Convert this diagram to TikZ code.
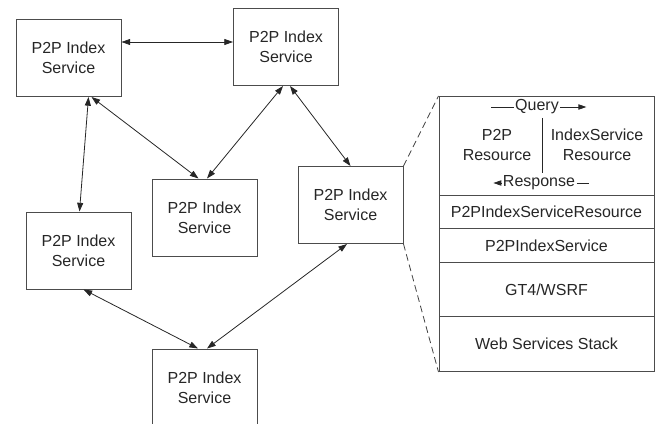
\documentclass[tikz,border=0pt]{standalone}
\usepackage{fontspec}
\setmainfont{Liberation Sans}
\usetikzlibrary{arrows.meta,calc}
\begin{document}
\begin{tikzpicture}[x=0.75pt,y=-0.75pt,
  every node/.style={font=\fontsize{12}{15}\selectfont, text=black!85, inner sep=0pt, align=center},
  peer/.style={draw=black!70, line width=0.75pt, minimum width=78.75pt, minimum height=57.75pt},
  layer/.style={draw=black!70, line width=0.75pt, minimum width=161.25pt, anchor=north},
  tip/.style={Triangle[length=6.5pt,width=4.5pt]},
  link/.style={{Triangle[length=6.5pt,width=4.5pt]}-{Triangle[length=6.5pt,width=4.5pt]}, line width=0.6pt, draw=black!85},
  flow/.style={line width=0.6pt, draw=black!85},
  zoomline/.style={dashed, dash pattern=on 5pt off 3pt, line width=0.6pt, draw=black!75}
]
\useasboundingbox (0,0) rectangle (656,424);

% peer index services
\node[peer] (A) at (68.5,58) {P2P Index\\Service};
\node[peer] (B) at (286,47) {P2P Index\\Service};
\node[peer] (C) at (204.5,217.5) {P2P Index\\Service};
\node[peer] (D) at (350.5,205) {P2P Index\\Service};
\node[peer] (E) at (78.5,250.5) {P2P Index\\Service};
\node[peer] (F) at (204.5,387.5) {P2P Index\\Service};

% links between peers
\draw[link] ($(A.east)+(0,-16)$) -- ($(B.west)+(0,-5)$);
\draw[link] ($(A.south)+(23,0)$) -- ($(C.north)+(-6,0)$);
\draw[link] ($(A.south)+(20,0)$) -- ($(E.north)+(1,0)$);
\draw[link] ($(B.south)+(-3,0)$) -- ($(C.north)+(2.5,0)$);
\draw[link] ($(B.south)+(4,0)$) -- ($(D.north)+(0,0)$);
\draw[link] ($(E.south)+(5,0)$) -- ($(F.north)+(-6.5,0)$);
\draw[link] ($(D.south)+(-3.5,0)$) -- ($(F.north)+(2.5,0)$);

% layered view of a single service
\node[layer, minimum height=74.25pt] (s0) at (546.5,96) {};
\node[layer, minimum height=24.75pt] (s1) at (546.5,195) {P2PIndexServiceResource};
\node[layer, minimum height=25.5pt]  (s2) at (546.5,228) {P2PIndexService};
\node[layer, minimum height=40.5pt]  (s3) at (546.5,262) {GT4/WSRF};
\node[layer, minimum height=41.25pt] (s4) at (546.5,316) {Web Services Stack};

% resource exchange inside the top layer
\node (pr) at (497,145) {P2P\\Resource};
\node (ir) at (597,145) {IndexService\\Resource};
\coordinate (divtop) at (542,118);
\coordinate (divbot) at (542,173);
\draw[flow] (divtop) -- (divbot);
\node[inner sep=1pt] (q) at (537,107) {Query};
\draw[flow] (q.west) -- +(-23,0);
\draw[flow, -{Triangle[length=6pt,width=4pt]}] (q.east) -- +(26,0);
\node[inner sep=1pt] (r) at (539,183) {Response};
\draw[flow, -{Triangle[length=6pt,width=4pt]}] (r.west) -- +(-8,0);
\draw[flow] (r.east) -- +(12,0);

% zoom guides
\draw[zoomline] (D.north east) -- (s0.north west);
\draw[zoomline] (D.south east) -- (s4.south west);
\end{tikzpicture}
\end{document}
